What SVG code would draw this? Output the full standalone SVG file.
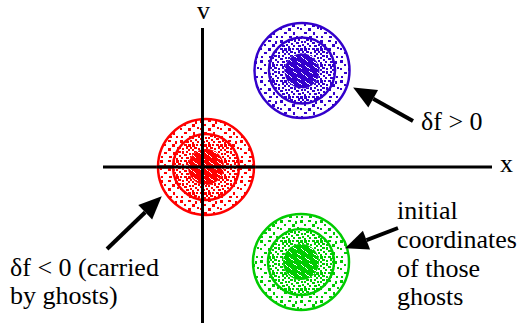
<svg xmlns="http://www.w3.org/2000/svg" width="520" height="328" viewBox="0 0 520 328">
<style>
.t{font-size:26px;fill:#000}
.axis{stroke:#000;stroke-width:3;fill:none}
.ring{fill:none;stroke:currentColor;stroke-width:2.5}
.bg{fill:#fff}
.arrow{stroke:#000;stroke-width:4;fill:none;marker-end:url(#head)}
</style>
<defs>
<marker id="head" markerUnits="userSpaceOnUse" markerWidth="24" markerHeight="20" refX="0" refY="10" orient="auto" viewBox="0 0 24 20" overflow="visible">
<path d="M0,0 L23,10 L0,20 z" fill="#000"/>
</marker>
<pattern id="pSparse" patternUnits="userSpaceOnUse" width="20" height="20">
<g fill="#fff">
<rect x="0" y="0" width="3" height="3"/><rect x="8" y="0" width="3" height="2"/><rect x="15" y="1" width="2" height="3"/>
<rect x="4" y="4" width="2" height="2"/><rect x="12" y="4" width="3" height="3"/>
<rect x="0" y="8" width="2" height="2"/><rect x="8" y="8" width="3" height="3"/><rect x="17" y="7" width="2" height="2"/>
<rect x="4" y="12" width="3" height="2"/><rect x="13" y="12" width="2" height="3"/>
<rect x="1" y="16" width="2" height="2"/><rect x="9" y="16" width="3" height="2"/><rect x="16" y="16" width="2" height="2"/>
</g>
</pattern>
<pattern id="pMedium" patternUnits="userSpaceOnUse" width="16" height="16">
<g fill="#fff">
<rect x="0" y="0" width="3" height="3"/><rect x="4" y="0" width="2" height="2"/><rect x="8" y="0" width="3" height="2"/><rect x="12" y="0" width="3" height="3"/>
<rect x="2" y="3" width="3" height="2"/><rect x="10" y="2" width="2" height="3"/><rect x="14" y="3" width="2" height="2"/>
<rect x="6" y="4" width="2" height="2"/><rect x="0" y="5" width="2" height="2"/><rect x="12" y="5" width="2" height="2"/>
<rect x="2" y="7" width="3" height="2"/><rect x="6" y="7" width="2" height="3"/><rect x="10" y="7" width="2" height="2"/>
<rect x="0" y="9" width="2" height="2"/><rect x="8" y="10" width="3" height="2"/><rect x="13" y="9" width="2" height="2"/>
<rect x="3" y="11" width="2" height="2"/><rect x="5" y="13" width="2" height="2"/><rect x="14" y="12" width="2" height="2"/>
<rect x="10" y="13" width="3" height="2"/><rect x="0" y="14" width="2" height="2"/>
</g>
</pattern>
<pattern id="pDense" patternUnits="userSpaceOnUse" width="16" height="16">
<rect width="16" height="16" fill="#fff"/>
<g fill="#000">
<rect x="1" y="1" width="1" height="1"/><rect x="2" y="2" width="1" height="1"/><rect x="3" y="3" width="2" height="1"/><rect x="5" y="4" width="1" height="1"/>
<rect x="9" y="1" width="1" height="1"/><rect x="10" y="2" width="1" height="1"/><rect x="11" y="3" width="2" height="1"/><rect x="13" y="4" width="1" height="1"/>
<rect x="5" y="7" width="1" height="1"/><rect x="6" y="8" width="2" height="1"/><rect x="8" y="9" width="1" height="1"/>
<rect x="13" y="8" width="1" height="1"/><rect x="14" y="9" width="1" height="1"/><rect x="15" y="10" width="1" height="1"/>
<rect x="1" y="11" width="1" height="1"/><rect x="2" y="12" width="1" height="1"/><rect x="3" y="13" width="1" height="1"/>
<rect x="9" y="13" width="1" height="1"/><rect x="10" y="14" width="2" height="1"/><rect x="12" y="15" width="1" height="1"/>
</g>
</pattern>
<mask id="mSparse" maskUnits="userSpaceOnUse" x="0" y="0" width="520" height="328"><rect width="520" height="328" fill="url(#pSparse)"/></mask>
<mask id="mMedium" maskUnits="userSpaceOnUse" x="0" y="0" width="520" height="328"><rect width="520" height="328" fill="url(#pMedium)"/></mask>
<mask id="mDense" maskUnits="userSpaceOnUse" x="0" y="0" width="520" height="328"><rect width="520" height="328" fill="url(#pDense)"/></mask>
</defs>
<rect width="520" height="328" fill="#fff"/>

<g id="axes">
<line class="axis" x1="202.5" y1="28" x2="202.5" y2="323"/>
<line class="axis" x1="103" y1="167" x2="492" y2="167"/>
<g font-family="Liberation Serif, Times New Roman, DejaVu Serif, serif">
<text class="t" x="197" y="19">v</text>
<text class="t" x="500" y="172">x</text>
</g>
</g>

<g id="blob-red" color="#ff0000">
<circle cx="206" cy="167" r="48" fill="currentColor" mask="url(#mSparse)"/>
<circle class="bg" cx="206" cy="167" r="33"/>
<circle cx="206" cy="167" r="33" fill="currentColor" mask="url(#mMedium)"/>
<circle class="bg" cx="206" cy="167" r="18"/>
<circle cx="206" cy="167" r="18" fill="currentColor" mask="url(#mDense)"/>
<circle class="ring" cx="206" cy="167" r="48"/>
<circle class="ring" cx="206" cy="167" r="33"/>
</g>

<g id="axes-over">
<line class="axis" x1="202.5" y1="118" x2="202.5" y2="216"/>
<line class="axis" x1="157" y1="167" x2="255" y2="167"/>
</g>

<g id="blob-blue" color="#3300cc">
<circle cx="302" cy="70.5" r="47.5" fill="currentColor" mask="url(#mSparse)"/>
<circle class="bg" cx="302" cy="70.5" r="33"/>
<circle cx="302" cy="70.5" r="33" fill="currentColor" mask="url(#mMedium)"/>
<circle class="bg" cx="302" cy="71" r="17.5"/>
<circle cx="302" cy="71" r="17.5" fill="currentColor" mask="url(#mDense)"/>
<circle class="ring" cx="302" cy="70.5" r="47.5"/>
<circle class="ring" cx="302" cy="70.5" r="33"/>
</g>

<g id="blob-green" color="#00cc00">
<circle cx="301" cy="262" r="48" fill="currentColor" mask="url(#mSparse)"/>
<circle class="bg" cx="301" cy="262" r="33"/>
<circle cx="301" cy="262" r="33" fill="currentColor" mask="url(#mMedium)"/>
<circle class="bg" cx="301" cy="262" r="18"/>
<circle cx="301" cy="262" r="18" fill="currentColor" mask="url(#mDense)"/>
<circle class="ring" cx="301" cy="262" r="48"/>
<circle class="ring" cx="301" cy="262" r="33"/>
</g>

<g id="connectors">
<line class="arrow" x1="413" y1="121" x2="373.2" y2="98.7"/>
<line class="arrow" x1="107" y1="249" x2="145.2" y2="212.2"/>
<line class="arrow" x1="398" y1="228" x2="366.5" y2="240.1"/>
</g>

<g font-family="Liberation Serif, Times New Roman, DejaVu Serif, serif">
<g id="label-pos"><text class="t" x="421" y="130">δf &gt; 0</text></g>
<g id="label-neg">
<text class="t" x="10" y="276">δf &lt; 0 (carried</text>
<text class="t" x="10" y="304">by ghosts)</text>
</g>
<g id="label-init">
<text class="t" x="397" y="219">initial</text>
<text class="t" x="397" y="248">coordinates</text>
<text class="t" x="397" y="277">of those</text>
<text class="t" x="397" y="305">ghosts</text>
</g>
</g>
</svg>
